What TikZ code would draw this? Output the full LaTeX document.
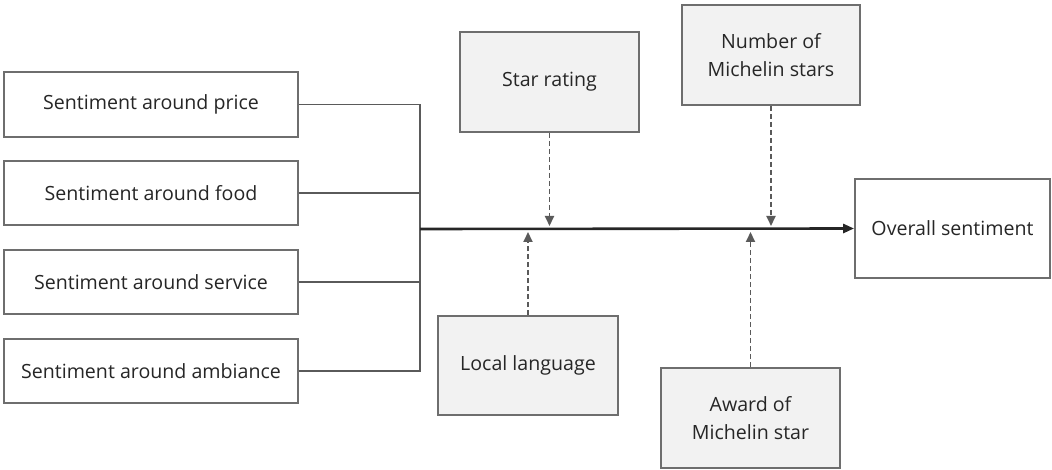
\documentclass[tikz,border=0pt]{standalone}
\usepackage{fontspec}
\setmainfont{Open Sans}
\usetikzlibrary{arrows.meta}
\definecolor{boxline}{HTML}{6E6E6E}
\definecolor{boxfill}{HTML}{F2F2F2}
\definecolor{txt}{HTML}{262626}
\definecolor{conn}{HTML}{5A5A5A}
\tikzset{
  base/.style={draw=boxline, line width=1.8pt, rectangle, align=center, text=txt,
    font=\fontsize{19.6}{28}\selectfont, inner sep=2pt},
  whitebox/.style={base, fill=white},
  graybox/.style={base, fill=boxfill},
  feed/.style={draw=conn, line width=1.8pt},
  mainline/.style={draw=black!85, line width=2.6pt, -{Triangle[length=11pt,width=9pt]}},
  dasharrow/.style={draw=conn, line width=1.9pt, dash pattern=on 5pt off 3pt,
    -{Triangle[length=10pt,width=9pt]}, shorten >=3pt},
}
\begin{document}
\begin{tikzpicture}[x=1pt,y=-1pt]
\useasboundingbox (0,0) rectangle (1052,470);
\node[whitebox, minimum width=294pt, minimum height=65pt] (price) at (151,104.5) {Sentiment around price};
\node[whitebox, minimum width=294pt, minimum height=64pt] (food) at (151,193) {Sentiment around food};
\node[whitebox, minimum width=294pt, minimum height=64pt] (service) at (151,282) {Sentiment around service};
\node[whitebox, minimum width=294pt, minimum height=64pt] (ambiance) at (151,371) {Sentiment around ambiance};
\node[graybox, minimum width=179pt, minimum height=100pt] (star) at (549.5,82) {Star rating};
\node[graybox, minimum width=178pt, minimum height=100pt] (num) at (771,55) {Number of\\Michelin stars};
\node[graybox, minimum width=180pt, minimum height=99pt] (local) at (528,365.5) {Local language};
\node[graybox, minimum width=179pt, minimum height=100pt] (award) at (750.5,418) {Award of\\Michelin star};
\node[whitebox, minimum width=195pt, minimum height=99pt] (overall) at (952.5,228.5) {Overall sentiment};
\coordinate (J) at (420,229);
\draw[feed] (price.east) -| (J);
\draw[feed] (ambiance.east) -| (J);
\draw[feed] (food.east) -- (food.east -| J);
\draw[feed] (service.east) -- (service.east -| J);
\draw[mainline] (J) -- (overall.west);
\draw[dasharrow] (star.south) -- (star.south |- J);
\draw[dasharrow] (num.south) -- (num.south |- J);
\draw[dasharrow] (local.north) -- (local.north |- J);
\draw[dasharrow] (award.north) -- (award.north |- J);
\end{tikzpicture}
\end{document}
